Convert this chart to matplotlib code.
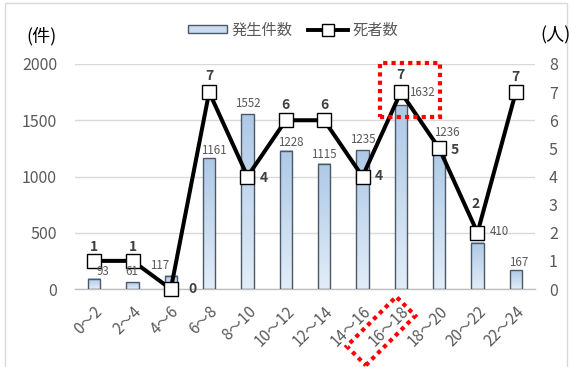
import matplotlib
matplotlib.use("Agg")
import matplotlib.pyplot as plt
import numpy as np
from matplotlib.patches import Rectangle
from matplotlib.lines import Line2D
from matplotlib.transforms import Affine2D

plt.rcParams['font.family'] = ['Noto Sans CJK JP', 'DejaVu Sans']

# 時間帯ごとの発生件数と死者数
hours = ["0～2", "2～4", "4～6", "6～8", "8～10", "10～12", "12～14",
         "14～16", "16～18", "18～20", "20～22", "22～24"]
cases = [93, 61, 117, 1161, 1552, 1228, 1115, 1235, 1632, 1236, 410, 167]
deaths = [1, 1, 0, 7, 4, 6, 6, 4, 7, 5, 2, 7]

# ラベル位置 (ポイント単位のオフセット)
case_offsets = [(6.5, 4.8), (-0.7, 7.3), (-8, 7.8), (3, 6), (0, 7.5), (3.6, 5.7),
                (0, 6.2), (0, 7.9), (15, 9), (5.6, 12.8), (15.5, 8), (2, 5.9)]
death_offsets = [(0, 10.3), (0, 10.3), (15.6, 0), (0, 11.7), (12, -0.8),
                 (0, 11.2), (0, 11.2), (12, 0), (0, 12.5), (11.5, -1),
                 (-1.7, 20.5), (0, 11.2)]

W, H = 572, 367
fig = plt.figure(figsize=(W / 100, H / 100), dpi=100)
px = Affine2D().scale(1 / W, 1 / H) + fig.transFigure

grey_txt = '#595959'
ax = fig.add_axes([75 / W, 1 - 289 / H, 460 / W, 225 / H])
x = np.arange(len(hours))
bw = 0.32

ax.set_yticks([0, 500, 1000, 1500, 2000])
ax.grid(axis='y', color='#d9d9d9', linewidth=1)
ax.set_axisbelow(True)
for s in ['top', 'right', 'left']:
    ax.spines[s].set_visible(False)
ax.spines['bottom'].set_color('#bfbfbf')
ax.spines['bottom'].set_linewidth(1)
ax.tick_params(axis='y', length=0, pad=13, labelsize=11.5, labelcolor=grey_txt)
ax.tick_params(axis='x', length=0, pad=10, labelsize=11, labelcolor=grey_txt)
ax.set_xticks(x)
ax.set_xticklabels(hours, rotation=45, ha='right', rotation_mode='anchor')

bars = ax.bar(x, cases, width=bw, facecolor='none', edgecolor='#4a5868',
              linewidth=1, zorder=3)
grad = np.linspace(0, 1, 100).reshape(-1, 1)
cmap = matplotlib.colors.LinearSegmentedColormap.from_list(
    'bar', ['#e2edf8', '#aec9e7'])
for b in bars:
    x0, y0 = b.get_x(), b.get_y()
    ax.imshow(grad, extent=(x0, x0 + b.get_width(), y0, y0 + b.get_height()),
              origin='lower', cmap=cmap, aspect='auto', zorder=2,
              interpolation='bilinear')
ax.set_xlim(-0.5, len(hours) - 0.5)
ax.set_ylim(0, 2000)

ax2 = ax.twinx()
ax2.set_ylim(0, 8)
ax2.set_yticks(range(9))
for s in ax2.spines.values():
    s.set_visible(False)
ax2.tick_params(axis='y', length=0, pad=10, labelsize=11.5, labelcolor=grey_txt)
ax2.plot(x, deaths, color='black', linewidth=2.9, marker='s', markersize=10,
         markerfacecolor='white', markeredgecolor='black', markeredgewidth=1,
         zorder=4, clip_on=False)

# 件数ラベル (折れ線より前面)
for xi, v, (dx, dy) in zip(x, cases, case_offsets):
    ax2.annotate(str(v), (xi, v), xycoords=ax.transData, xytext=(dx, dy),
                 textcoords='offset points', ha='center', va='center',
                 fontsize=8.3, color=grey_txt, zorder=6)
# 死者数ラベル
for xi, v, (dx, dy) in zip(x, deaths, death_offsets):
    ax2.annotate(str(v), (xi, v), xytext=(dx, dy), textcoords='offset points',
                 ha='center', va='center', fontsize=10, fontweight='bold',
                 color='#404040', zorder=6)

# 単位
fig.text(26 / W, 1 - 36 / H, '(件)', ha='left', va='center', fontsize=13,
         color='black')
fig.text(571 / W, 1 - 35 / H, '(人)', ha='right', va='center', fontsize=13,
         color='black')

# 凡例
handles = [Rectangle((0, 0), 1, 1, facecolor='#c9dcf0', edgecolor='#4a5868',
                     linewidth=1),
           Line2D([], [], color='black', linewidth=2.8, marker='s',
                  markersize=8, markerfacecolor='white',
                  markeredgecolor='black', markeredgewidth=1)]
fig.legend(handles, ['発生件数', '死者数'], loc='center', ncol=2,
           bbox_to_anchor=(293 / W, 1 - 30 / H), frameon=False, fontsize=11,
           labelcolor=grey_txt, handlelength=2.6, handleheight=0.5,
           handletextpad=0.3, columnspacing=1.0)

# 強調枠
red_kw = dict(fill=False, edgecolor='#ff0000', linewidth=3,
              linestyle=(0, (1, 1)), transform=px)
fig.patches.append(Rectangle((380, H - 117), 60, 54, **red_kw))
fig.patches.append(Rectangle((381 - 35, H - 331 - 13.5), 70, 27, angle=45,
                             rotation_point='center', **red_kw))

# 外枠
fig.patches.append(Rectangle((5, -5), 562, H - 3 + 5, fill=False,
                             edgecolor='#d9d9d9', linewidth=1, transform=px))

fig.savefig('out.png', dpi=100)
